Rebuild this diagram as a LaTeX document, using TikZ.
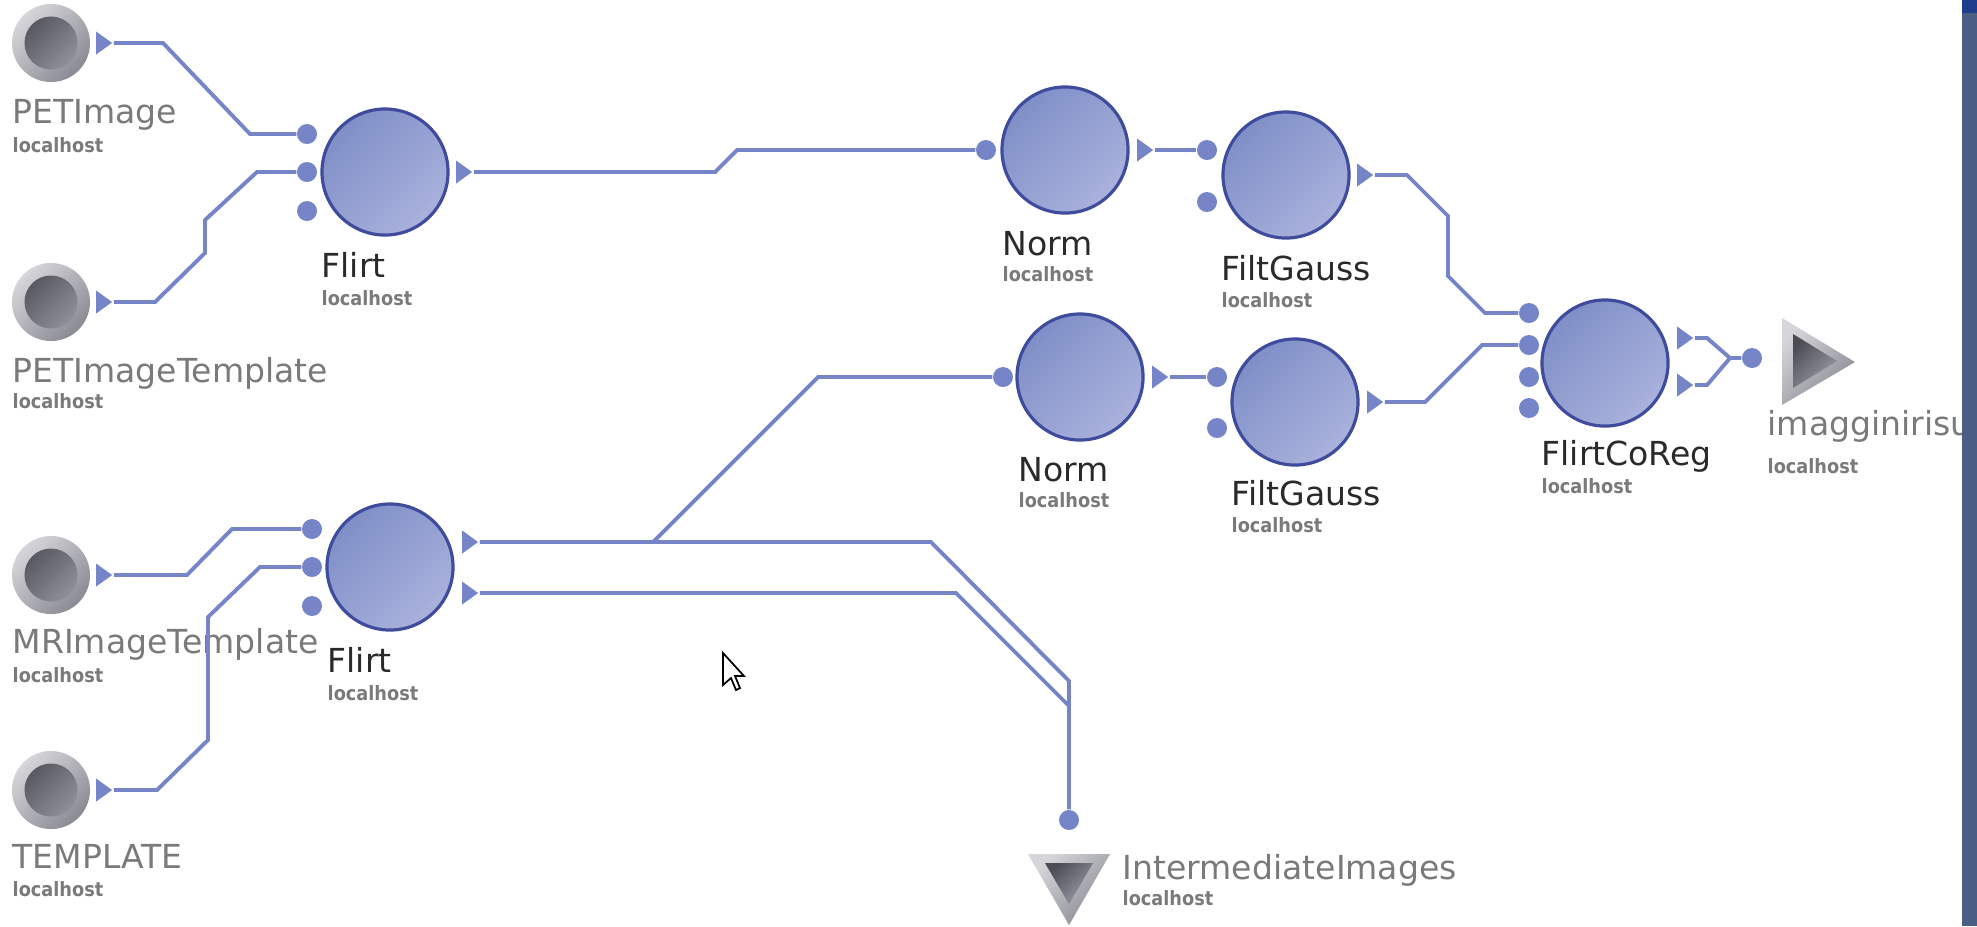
\documentclass[tikz,border=0pt]{standalone}
\usepackage{fontspec}
\setmainfont{DejaVu Sans}
\newfontfamily\hostfont{DejaVu Sans Condensed}
\usetikzlibrary{shapes.geometric}

\definecolor{wire}{HTML}{7585C8}
\definecolor{modA}{HTML}{7F8FC7}
\definecolor{modB}{HTML}{AAB2DC}
\definecolor{modE}{HTML}{3F4C9E}
\definecolor{srcA}{HTML}{D6D6DA}
\definecolor{srcB}{HTML}{8A8A94}
\definecolor{srcC}{HTML}{4C4C54}
\definecolor{srcD}{HTML}{9C9CA8}
\definecolor{srctxt}{HTML}{7A7A7A}
\definecolor{modtxt}{HTML}{2A2A2A}
\definecolor{barc}{HTML}{4A5D85}
\definecolor{bartop}{HTML}{1E3C8C}

\newcommand{\host}[1]{\node[hst] at (#1) {localhost};}

\begin{document}
\begin{tikzpicture}[x=0.01cm, y=-0.01cm,
    module/.style={circle, minimum size=1.26cm, draw=modE, line width=0.9pt,
        top color=modA, bottom color=modB, shading angle=45},
    src/.style={circle, minimum size=0.78cm, top color=srcA, bottom color=srcB, shading angle=45,
        path picture={\shade[top color=srcC, bottom color=srcD, shading angle=45]
            (path picture bounding box.center) circle (0.265cm);}},
    iport/.style={circle, fill=wire, inner sep=0pt, minimum size=0.2cm},
    oport/.style={isosceles triangle, isosceles triangle stretches, fill=wire, inner sep=0pt,
        minimum height=0.16cm, minimum width=0.23cm},
    wire/.style={draw=wire, line width=1.1pt},
    srclbl/.style={text=srctxt, font=\fontsize{9.4}{10}\selectfont, inner sep=0pt, anchor=base west},
    modlbl/.style={text=modtxt, font=\fontsize{9.4}{10}\selectfont, inner sep=0pt, anchor=base west},
    hst/.style={text=srctxt, font=\hostfont\bfseries\fontsize{5.6}{6}\selectfont, inner sep=0pt, anchor=base west}]

    \fill[white] (0,0) rectangle (1977,926);
    \useasboundingbox (0,0) rectangle (1977,926);

    % sources
    \node[src] (S1) at (51,43) {};
    \node[src] (S2) at (51,302) {};
    \node[src] (S3) at (51,575) {};
    \node[src] (S4) at (51,790) {};
    \node[oport] (S1o) at (102,43) {};
    \node[oport] (S2o) at (102,302) {};
    \node[oport] (S3o) at (102,575) {};
    \node[oport] (S4o) at (102,790) {};

    \node[srclbl] at (12,123) {PETImage};            \host{12,152}
    \node[srclbl] at (12,382) {PETImageTemplate};    \host{12,408}
    \node[srclbl] at (12,653) {MRImageTemplate};     \host{12,682}
    \node[srclbl] at (12,868) {TEMPLATE};            \host{12,896}

    % modules
    \node[module] (F1) at (385,172) {};
    \node[module] (N1) at (1065,150) {};
    \node[module] (G1) at (1286,175) {};
    \node[module] (F2) at (390,567) {};
    \node[module] (N2) at (1080,377) {};
    \node[module] (G2) at (1295,402) {};
    \node[module] (C) at (1605,363) {};

    \node[modlbl] at (321,277) {Flirt};        \host{321,305}
    \node[modlbl] at (327,672) {Flirt};        \host{327,700}
    \node[modlbl] at (1002,255) {Norm};        \host{1002,281}
    \node[modlbl] at (1018,481) {Norm};        \host{1018,507}
    \node[modlbl] at (1221,280) {FiltGauss};   \host{1221,307}
    \node[modlbl] at (1231,505) {FiltGauss};   \host{1231,532}
    \node[modlbl] at (1541,465) {FlirtCoReg};  \host{1541,493}

    % input ports
    \node[iport] (F1i1) at (307,134) {};
    \node[iport] (F1i2) at (307,172) {};
    \node[iport] (F1i3) at (307,211) {};
    \node[iport] (F2i1) at (312,529) {};
    \node[iport] (F2i2) at (312,567) {};
    \node[iport] (F2i3) at (312,606) {};
    \node[iport] (N1i) at (986,150) {};
    \node[iport] (N2i) at (1003,377) {};
    \node[iport] (G1i1) at (1207,150) {};
    \node[iport] (G1i2) at (1207,202) {};
    \node[iport] (G2i1) at (1217,377) {};
    \node[iport] (G2i2) at (1217,428) {};
    \foreach \k/\y in {1/313, 2/345, 3/377, 4/408}
        \node[iport] (Ci\k) at (1529,\y) {};

    % output ports
    \node[oport] (F1o) at (462,172) {};
    \node[oport] (F2o1) at (468,542) {};
    \node[oport] (F2o2) at (468,593) {};
    \node[oport] (N1o) at (1143,150) {};
    \node[oport] (N2o) at (1158,377) {};
    \node[oport] (G1o) at (1363,175) {};
    \node[oport] (G2o) at (1373,402) {};
    \node[oport] (Co1) at (1683,338) {};
    \node[oport] (Co2) at (1683,385) {};

    % sinks
    \node[iport] (K1) at (1752,358) {};
    \node[iport] (K2) at (1069,820) {};
    \shade[top color=srcA, bottom color=srcB, shading angle=45] (1782,318) -- (1855,362) -- (1782,405) -- cycle;
    \shade[top color=srcC, bottom color=srcD, shading angle=45] (1793,334) -- (1837,361) -- (1793,388) -- cycle;
    \node[srclbl] at (1767,435) {imagginirisu};  \host{1767,473}
    \shade[top color=srcA, bottom color=srcB, shading angle=45] (1028,854) -- (1110,854) -- (1069,925) -- cycle;
    \shade[top color=srcC, bottom color=srcD, shading angle=45] (1045,863) -- (1093,863) -- (1069,904) -- cycle;
    \node[srclbl] at (1122,879) {IntermediateImages};  \host{1122,905}

    % connectors
    \draw[wire] (S1o.apex) -- (163,43) -- (250,134) -- (F1i1);
    \draw[wire] (S2o.apex) -- (155,302) -- (205,253) -- (205,220) -- (257,172) -- (F1i2);
    \draw[wire] (S3o.apex) -- (187,575) -- (232,529) -- (F2i1);
    \draw[wire] (S4o.apex) -- (157,790) -- (208,740) -- (208,617) -- (260,567) -- (F2i2);
    \draw[wire] (F1o.apex) -- (715,172) -- (737,150) -- (N1i);
    \draw[wire] (N1o.apex) -- (G1i1);
    \draw[wire] (G1o.apex) -- (1407,175) -- (1448,216) -- (1448,276) -- (1485,313) -- (Ci1);
    \draw[wire] (F2o1.apex) -- (653,542) -- (818,377) -- (N2i);
    \draw[wire] (F2o1.apex) -- (931,542) -- (1069,681) -- (K2);
    \draw[wire] (F2o2.apex) -- (956,593) -- (1069,706);
    \draw[wire] (N2o.apex) -- (G2i1);
    \draw[wire] (G2o.apex) -- (1425,402) -- (1482,345) -- (Ci2);
    \draw[wire] (Co1.apex) -- (1707,338) -- (1730,358) -- (K1);
    \draw[wire] (Co2.apex) -- (1707,385) -- (1730,358);

    % mouse pointer
    \filldraw[fill=white, draw=black, line width=0.5pt] (723,653) -- ++(0,32) -- ++(8,-7) -- ++(5,12)
        -- ++(4,-2) -- ++(-5,-12) -- ++(9,0) -- cycle;

    % window edge
    \fill[barc] (1962,0) rectangle (1977,926);
    \fill[bartop] (1962,0) rectangle (1977,13);
\end{tikzpicture}
\end{document}
